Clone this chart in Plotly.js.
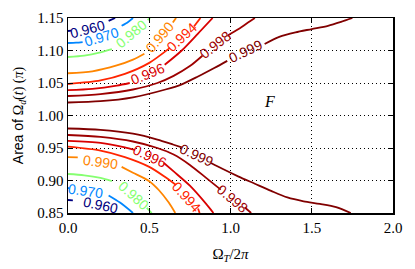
<!DOCTYPE html>
<html>
<head>
<meta charset="utf-8">
<script src="https://cdn.plot.ly/plotly-3.0.1.min.js"></script>
<style>html,body{margin:0;padding:0;background:#fff;}#chart{width:415px;height:269px;}</style>
</head>
<body>
<div id="chart"></div>
<script>
// ---- data (null = gap left by the inline label) ----
const levels = ['0.960', '0.970', '0.980', '0.990', '0.994', '0.996', '0.998', '0.999'];
const xTicks = [0, 0.5, 1.0, 1.5, 2.0];
const xTickText = ['0.0', '0.5', '1.0', '1.5', '2.0'];
const yTicks = [0.85, 0.90, 0.95, 1.00, 1.05, 1.10, 1.15];
const yTickText = ['0.85', '0.90', '0.95', '1.00', '1.05', '1.10', '1.15'];

const c960x = [0, 0.02, null, 0.25, 0.29, null, 0, 0.03];
const c960y = [1.130, 1.1305, null, 1.1455, 1.15, null, 0.870, 0.8695];

const c970x = [0, 0.05, 0.09, null, 0.33, 0.37, 0.40, null, 0, 0.01, null, 0.25, 0.32, 0.40];
const c970y = [1.1115, 1.112, 1.113, null, 1.138, 1.144, 1.15, null, 0.8885, 0.888, null, 0.877, 0.866, 0.85];

const c980x = [0, 0.1, 0.2, 0.27, null, 0.49, 0.505, null, 0, 0.1, 0.2, 0.27, null, 0.485, 0.515];
const c980y = [1.090, 1.092, 1.097, 1.102, null, 1.147, 1.15, null, 0.910, 0.908, 0.904, 0.899, null, 0.858, 0.85];

const c990x = [0, 0.15, 0.3, 0.4, 0.47, null, 0.645, 0.665, null, 0, 0.06, null, 0.33, 0.4, 0.5, 0.56, 0.62, 0.66];
const c990y = [1.065, 1.068, 1.077, 1.086, 1.095, null, 1.143, 1.15, null, 0.936, 0.9355, null, 0.921, 0.912, 0.899, 0.885, 0.866, 0.85];

const c994x = [0, 0.2, 0.35, 0.5, 0.627, null, 0.775, 0.815, null, 0, 0.2, 0.35, 0.5, 0.6, 0.665, null, 0.80, 0.81];
const c994y = [1.0485, 1.054, 1.064, 1.081, 1.104, null, 1.137, 1.15, null, 0.952, 0.946, 0.936, 0.921, 0.905, 0.893, null, 0.857, 0.85];

const c996x = [0, 0.15, 0.3, 0.38, null, 0.595, 0.7, 0.8, 0.89, null, 0, 0.2, 0.35, 0.41, null, 0.59, 0.65, 0.75, 0.85, 0.895];
const c996y = [1.039, 1.041, 1.046, 1.050, null, 1.078, 1.100, 1.126, 1.15, null, 0.961, 0.958, 0.951, 0.947, null, 0.927, 0.914, 0.892, 0.864, 0.85];

const c998x = [0, 0.2, 0.4, 0.55, 0.65, 0.75, 0.827, null, 0.983, 1.05, 1.12, 1.15, null, 0, 0.2, 0.4, 0.55, 0.65, 0.75, 0.85, 0.94, null, 1.09, 1.127];
const c998y = [1.030, 1.033, 1.040, 1.050, 1.061, 1.076, 1.092, null, 1.123, 1.133, 1.145, 1.15, null, 0.970, 0.967, 0.960, 0.950, 0.940, 0.924, 0.904, 0.886, null, 0.858, 0.85];

const c999x = [0, 0.2, 0.4, 0.6, 0.7, 0.8, 0.9, 0.98, null, 1.21, 1.3, 1.4, 1.5, 1.6, 1.68, 1.75, null, 0, 0.2, 0.4, 0.55, 0.65, 0.70, null, 0.88, 0.95, 1.05, 1.15, 1.25, 1.35, 1.45, 1.55, 1.65, 1.74];
const c999y = [1.020, 1.022, 1.028, 1.040, 1.048, 1.060, 1.073, 1.084, null, 1.110, 1.121, 1.128, 1.133, 1.138, 1.144, 1.15, null, 0.980, 0.978, 0.972, 0.963, 0.955, 0.951, null, 0.927, 0.918, 0.906, 0.895, 0.884, 0.874, 0.868, 0.864, 0.859, 0.85];

// ---- styling / placement (kept separate from the data) ----
const levelColors = ['#000080', '#0086ff', '#86ff71', '#ff8500', '#ff2400', '#d90000', '#9d0000', '#800000'];
const lineX = [c960x, c970x, c980x, c990x, c994x, c996x, c998x, c999x];
const lineY = [c960y, c970y, c980y, c990y, c994y, c996y, c998y, c999y];

// label placement: [level index, x, y, angle]
const labelPlacement = [
  [0, 0.123, 1.1325, -15], [1, 0.205, 1.121, -17], [2, 0.39, 1.125, -40], [3, 0.565, 1.121, -50],
  [4, 0.70, 1.121, -43], [5, 0.487, 1.064, -22], [6, 0.905, 1.108, -38], [7, 1.095, 1.099, -25],
  [0, 0.20, 0.862, 12], [1, 0.11, 0.884, 8], [2, 0.40, 0.877, 42], [3, 0.20, 0.929, 7],
  [4, 0.73, 0.875, 48], [5, 0.50, 0.937, 25], [6, 1.015, 0.872, 40], [7, 0.79, 0.939, 25]
];

const traces = levels.map((lv, i) => ({
  type: 'scatter', mode: 'lines', name: lv,
  x: lineX[i], y: lineY[i], connectgaps: false,
  line: {color: levelColors[i], width: 1.8, shape: 'spline', smoothing: 0.8},
  hoverinfo: 'skip', showlegend: false
}));

const annotations = labelPlacement.map(p => ({
  x: p[1], y: p[2], xref: 'x', yref: 'y', text: levels[p[0]], showarrow: false,
  textangle: p[3], xanchor: 'center', yanchor: 'middle',
  font: {family: 'Liberation Sans, Arial, sans-serif', size: 14, color: levelColors[p[0]]}
}));
annotations.push({
  x: 1.237, y: 1.021, xref: 'x', yref: 'y', text: '<i>F</i>', showarrow: false,
  xanchor: 'center', yanchor: 'middle',
  font: {family: 'Liberation Serif, serif', size: 16, color: '#000'}
});

const axisCommon = {
  showgrid: true, gridcolor: '#000', griddash: '1px,3px', gridwidth: 1,
  zeroline: false, showline: true, linecolor: '#000', linewidth: 1.5,
  ticks: 'inside', ticklen: 5, tickwidth: 1, tickcolor: '#000', mirror: 'allticks',
  tickfont: {family: 'Liberation Serif, serif', size: 15, color: '#000'}
};

const layout = {
  width: 415, height: 269,
  margin: {l: 68, r: 22, t: 18, b: 56},
  paper_bgcolor: '#fff', plot_bgcolor: '#fff',
  showlegend: false,
  xaxis: Object.assign({}, axisCommon, {
    range: [0, 2], tickmode: 'array', tickvals: xTicks, ticktext: xTickText,
    title: {text: 'Ω<sub><i>T</i></sub>/2<i>π</i>', font: {family: 'Liberation Serif, serif', size: 15, color: '#000'}, standoff: 14}
  }),
  yaxis: Object.assign({}, axisCommon, {
    range: [0.85, 1.15], tickmode: 'array', tickvals: yTicks, ticktext: yTickText,
    title: {text: 'Area of <span style="font-family:Liberation Serif">Ω<sub><i>d</i></sub>(<i>t</i>) (<i>π</i>)</span>',
            font: {family: 'Liberation Sans, Arial, sans-serif', size: 14, color: '#000'}, standoff: 10}
  }),
  annotations: annotations
};

Plotly.newPlot('chart', traces, layout, {staticPlot: true, displayModeBar: false});
</script>
</body>
</html>
